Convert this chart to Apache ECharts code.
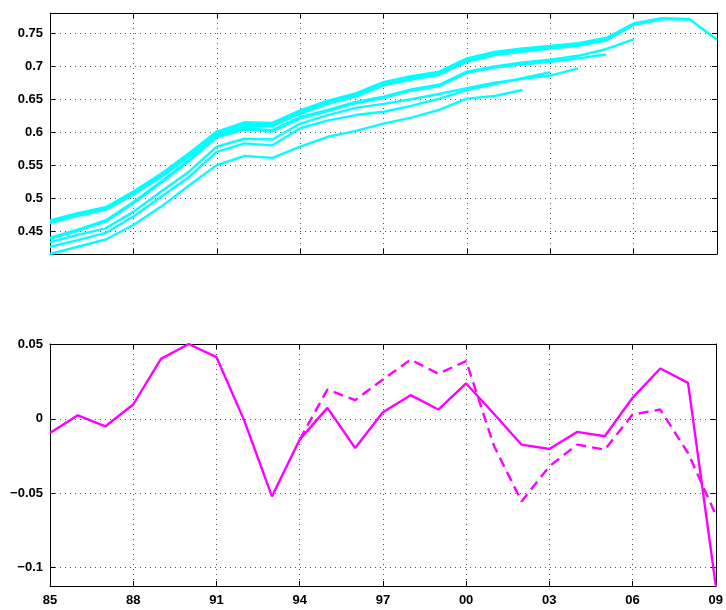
<!DOCTYPE html>
<html><head><meta charset="utf-8">
<script src="https://cdn.jsdelivr.net/npm/echarts@6/dist/echarts.min.js"></script>
<style>html,body{margin:0;padding:0;background:#fff}#c{width:726px;height:610px}</style>
</head><body><div id="c"></div>
<script>
const years = [1985,1986,1987,1988,1989,1990,1991,1992,1993,1994,1995,1996,1997,1998,1999,2000,2001,2002,2003,2004,2005,2006,2007,2008,2009];
const yTicksTop = [0.45,0.5,0.55,0.6,0.65,0.7,0.75];
const yTicksBottom = [-0.1,-0.05,0,0.05];

// Top panel: vintages (each ends at its vintage year)
const v2002 = [0.415,0.426,0.437,0.459,0.487,0.519,0.550,0.564,0.561,0.578,0.593,0.602,0.613,0.622,0.634,0.651,0.655,0.664];
const v2003 = [0.426,0.436,0.447,0.472,0.502,0.532,0.570,0.583,0.580,0.606,0.618,0.626,0.631,0.640,0.651,0.664,0.673,0.682,0.691];
const v2004 = [0.433,0.444,0.454,0.479,0.510,0.540,0.578,0.590,0.589,0.613,0.626,0.637,0.643,0.650,0.658,0.667,0.675,0.681,0.686,0.697];
const v2005 = [0.438,0.450,0.464,0.492,0.523,0.556,0.592,0.604,0.601,0.621,0.632,0.644,0.652,0.663,0.670,0.690,0.698,0.703,0.707,0.712,0.718];
const v2006 = [0.440,0.452,0.466,0.494,0.525,0.558,0.594,0.606,0.603,0.623,0.634,0.646,0.654,0.665,0.672,0.692,0.700,0.706,0.710,0.716,0.726,0.741];
const v2007 = [0.462,0.473,0.482,0.505,0.532,0.563,0.596,0.609,0.609,0.628,0.643,0.654,0.671,0.680,0.687,0.707,0.717,0.722,0.727,0.731,0.739,0.763,0.771];
const v2008 = [0.464,0.475,0.484,0.508,0.535,0.566,0.599,0.613,0.612,0.631,0.646,0.657,0.674,0.683,0.690,0.710,0.720,0.725,0.729,0.733,0.741,0.764,0.772,0.771];
const v2009 = [0.466,0.477,0.486,0.510,0.537,0.568,0.601,0.615,0.614,0.633,0.648,0.659,0.676,0.685,0.692,0.712,0.722,0.727,0.731,0.735,0.743,0.765,0.773,0.772,0.7405];

// Bottom panel
const solidGap = [-0.0095,0.0024,-0.005,0.0097,0.0405,0.0505,0.0417,-0.001,-0.0523,-0.014,0.0074,-0.0196,0.0045,0.016,0.0063,0.0239,0.0035,-0.0174,-0.0203,-0.0088,-0.0117,0.0142,0.034,0.0243,-0.1125];
const dashedGap = [null,null,null,null,null,null,null,null,null,-0.014,0.0198,0.0126,0.0266,0.040,0.0304,0.039,-0.018,-0.0557,-0.032,-0.0174,-0.0207,0.0029,0.0063,-0.023,-0.0647];

const font = {fontFamily:'Liberation Sans, Arial, sans-serif', fontWeight:'bold', fontSize:13, color:'#000'};
const gridLine = {show:true, lineStyle:{type:[1,4], color:'#555', width:1}};
const cats = years.map(String);

function xAx(g, pos){
  return {type:'category', gridIndex:g, data:cats, boundaryGap:false, position:pos,
    axisLine:{show:true, onZero:false, lineStyle:{color:'#000', width:1}},
    axisTick:{show:true, inside:true, length:5, interval:2, lineStyle:{color:'#000'}},
    axisLabel:Object.assign({show: g===1 && pos==='bottom', interval:2, margin:8,
      formatter:v=>v.slice(2)}, font),
    splitLine: pos==='bottom' ? Object.assign({interval:2}, gridLine) : {show:false}};
}
function yAx(g, pos, min, max, ticks){
  return {type:'value', gridIndex:g, min:min, max:max, position:pos, scale:true,
    axisLine:{show:true, onZero:false, lineStyle:{color:'#000', width:1}},
    axisTick:{show:true, inside:true, length:5, customValues:ticks, lineStyle:{color:'#000'}},
    axisLabel:Object.assign({show: pos==='left', margin:7, customValues:ticks,
      formatter:v=> v<0 ? '\u2212'+String(Math.abs(v)) : String(v)}, font),
    splitLine: pos==='left' ? gridLine : {show:false}};
}
function line(data, xi, yi, color, dashed){
  return {type:'line', data:data, xAxisIndex:xi, yAxisIndex:yi, symbol:'none', silent:true,
    lineStyle:{color:color, width:2.4, type: dashed ? [10,6] : 'solid'}, connectNulls:false};
}
const cyan = '#00FFFF', mag = '#FF00FF';
const option = {
  animation:false, backgroundColor:'#fff',
  grid:[{left:50, top:13, width:667, height:241}, {left:50, top:344, width:667, height:242}],
  xAxis:[xAx(0,'bottom'), xAx(0,'top'), xAx(1,'bottom'), xAx(1,'top')],
  yAxis:[yAx(0,'left',0.415,0.781,yTicksTop), yAx(0,'right',0.415,0.781,yTicksTop),
         yAx(1,'left',-0.1127,0.0505,yTicksBottom), yAx(1,'right',-0.1127,0.0505,yTicksBottom)],
  series:[
    line(v2002,0,0,cyan), line(v2003,0,0,cyan), line(v2004,0,0,cyan), line(v2005,0,0,cyan),
    line(v2006,0,0,cyan), line(v2007,0,0,cyan), line(v2008,0,0,cyan), line(v2009,0,0,cyan),
    line(dashedGap,2,2,mag,true), line(solidGap,2,2,mag)
  ]
};
const chart = echarts.init(document.getElementById('c'), null, {renderer:'canvas'});
chart.setOption(option);
</script></body></html>
